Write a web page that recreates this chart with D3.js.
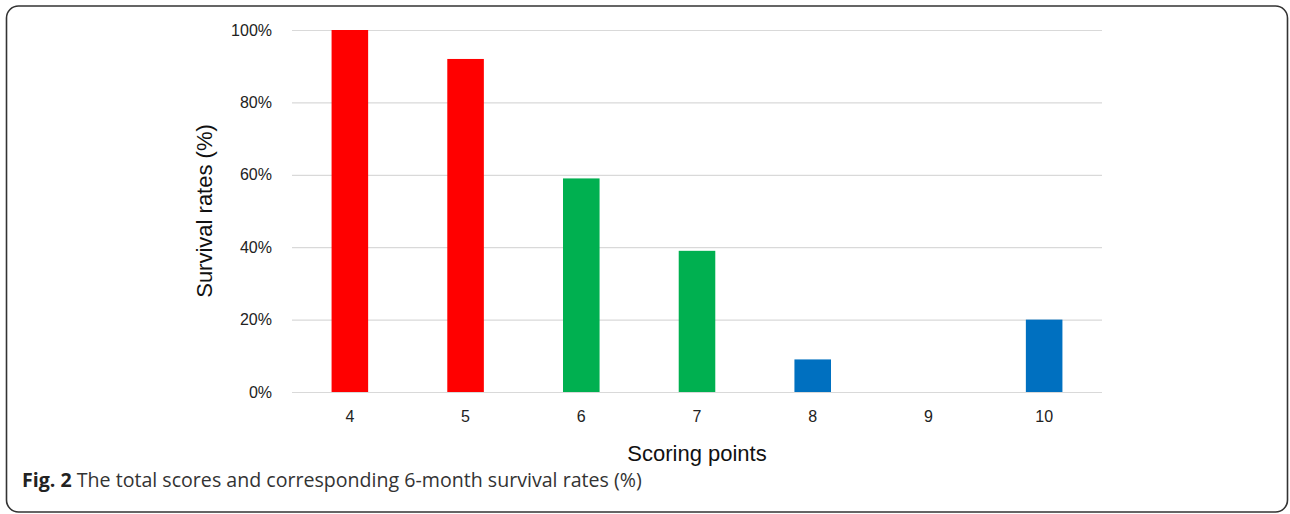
<!DOCTYPE html>
<html>
  <head>
    <meta charset="utf-8">
    <title>Scoring points and survival rates</title>
    <script src="https://cdnjs.cloudflare.com/ajax/libs/d3/7.8.5/d3.min.js"></script>
    <style>
      body { margin: 0; background: white; }
    </style>
  </head>
  <body>
    <script>
      // data
      var scores = ["4", "5", "6", "7", "8", "9", "10"];
      var survival = [100, 92, 59, 39, 9, 0, 20];
      var barColors = ["#ff0000", "#ff0000", "#00b050", "#00b050", "#0070c0", "#0070c0", "#0070c0"];
      var yTicks = [0, 20, 40, 60, 80, 100];

      var chartwidth = 1290;
      var chartheight = 514;
      // plot area (note: "top" is taken by window.top, so use other names)
      var plotLeft = 292, plotRight = 1102, plotTop = 30, plotBottom = 392;

      var svg = d3.select("body")
        .append("svg")
        .attr("width", chartwidth)
        .attr("height", chartheight);

      // outer frame
      svg.append("rect")
        .attr("x", 6.5)
        .attr("y", 6)
        .attr("width", 1281)
        .attr("height", 506)
        .attr("rx", 12)
        .attr("fill", "white")
        .attr("stroke", "#333")
        .attr("stroke-width", 1.6);

      var xScale = d3.scaleBand()
        .domain(scores)
        .range([plotLeft, plotRight])
        .paddingInner(0.684)
        .paddingOuter(0.342);

      var yScale = d3.scaleLinear()
        .domain([0, 100])
        .range([plotBottom, plotTop]);

      // gridlines + y labels
      var yAxis = svg.append("g")
        .attr("transform", "translate(" + plotLeft + ",0)")
        .call(d3.axisLeft(yScale)
          .tickValues(yTicks)
          .tickSize(-(plotRight - plotLeft))
          .tickPadding(20)
          .tickFormat(function(d) { return d + "%"; }));
      yAxis.select(".domain").remove();
      yAxis.selectAll(".tick line")
        .attr("stroke", "#d9d9d9")
        .attr("stroke-width", 1.2);
      yAxis.selectAll(".tick text")
        .attr("fill", "#222")
        .style("font-family", "'Liberation Sans', Arial, sans-serif")
        .style("font-size", "16px");

      // x labels
      var xAxis = svg.append("g")
        .attr("transform", "translate(0," + plotBottom + ")")
        .call(d3.axisBottom(xScale).tickSize(0).tickPadding(19));
      xAxis.select(".domain").remove();
      xAxis.selectAll(".tick text")
        .attr("fill", "#222")
        .style("font-family", "'Liberation Sans', Arial, sans-serif")
        .style("font-size", "16px");

      // bars
      svg.selectAll(".bar")
        .data(survival)
        .enter()
        .append("rect")
        .attr("class", "bar")
        .attr("x", function(d, i) { return xScale(scores[i]); })
        .attr("width", xScale.bandwidth())
        .attr("y", function(d) { return yScale(d); })
        .attr("height", function(d) { return yScale(0) - yScale(d); })
        .attr("fill", function(d, i) { return barColors[i]; })
        .attr("display", function(d) { return d > 0 ? null : "none"; });

      // axis titles
      svg.append("text")
        .attr("x", (plotLeft + plotRight) / 2)
        .attr("y", 461)
        .attr("text-anchor", "middle")
        .style("font-family", "'Liberation Sans', Arial, sans-serif")
        .style("font-size", "22px")
        .attr("fill", "#111")
        .text("Scoring points");

      svg.append("text")
        .attr("transform", "translate(212," + ((plotTop + plotBottom) / 2) + ") rotate(-90)")
        .attr("text-anchor", "middle")
        .style("font-family", "'Liberation Sans', Arial, sans-serif")
        .style("font-size", "22px")
        .attr("fill", "#111")
        .text("Survival rates (%)");

      // caption
      var caption = svg.append("text")
        .attr("x", 22)
        .attr("y", 487)
        .style("font-family", "'Open Sans', sans-serif")
        .style("font-size", "19.6px")
        .attr("fill", "#333");
      caption.append("tspan")
        .attr("font-weight", "bold")
        .attr("fill", "#222")
        .text("Fig. 2");
      caption.append("tspan")
        .text(" The total scores and corresponding 6-month survival rates (%)");
    </script>
  </body>
</html>
